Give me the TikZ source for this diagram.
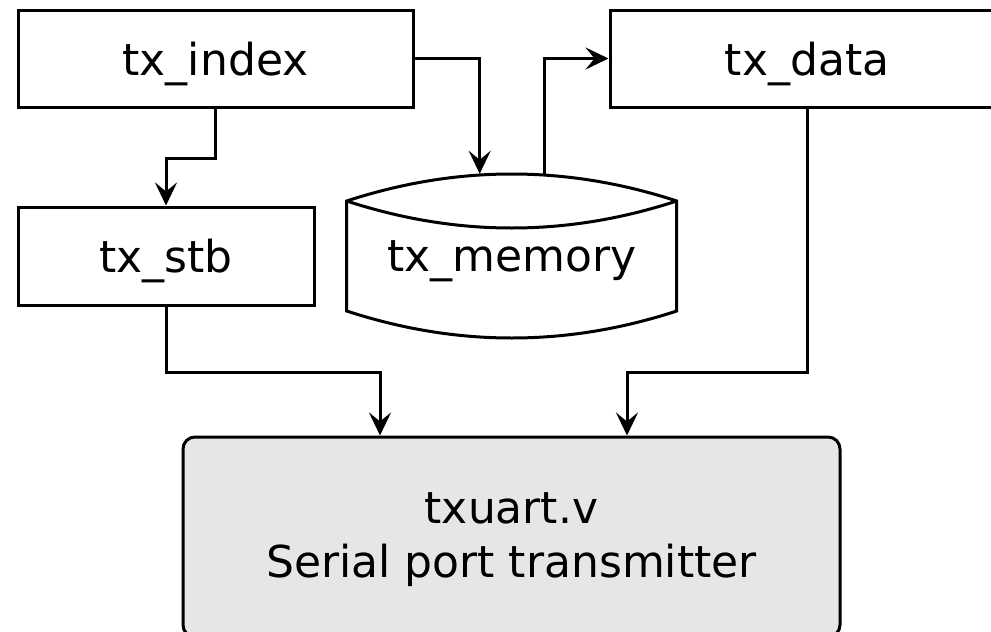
\documentclass[tikz,border=0pt]{standalone}
\usepackage{fontspec}
\setmainfont{DejaVu Sans}
\usetikzlibrary{arrows.meta,calc}
\definecolor{boxgray}{HTML}{E6E6E6}
\begin{document}
\begin{tikzpicture}[x=1pt,y=-1pt,
  every node/.style={font=\fontsize{44}{54}\selectfont},
  block/.style={draw,line width=3pt,rectangle,inner sep=0pt,text height=33pt,text depth=0pt},
  conn/.style={line width=3pt,-{Stealth[length=23pt,width=22pt,inset=9pt]}}]
\useasboundingbox (0,0) rectangle (991,632);
\clip (0,0) rectangle (991,632);

% register blocks
\node[block,minimum width=395pt,minimum height=97pt] (idx) at (215.5,58.5) {tx\_index};
\node[block,minimum width=394pt,minimum height=97pt] (data) at (807,58.5) {tx\_data};
\node[block,minimum width=296pt,minimum height=98pt] (stb) at (166,256) {tx\_stb};

% memory drawn as a drum
\draw[line width=3pt]
  (346.7,201) .. controls (456.7,165) and (566.7,165) .. (676.7,201)
  -- (676.7,311) .. controls (566.7,347) and (456.7,347) .. (346.7,311) -- cycle;
\draw[line width=3pt]
  (346.7,201) .. controls (456.7,237) and (566.7,237) .. (676.7,201);
\node[inner sep=0pt,minimum width=330pt,minimum height=164pt,text height=31pt,text depth=0pt]
  (mem) at (511.7,256) {tx\_memory};

% transmitter module
\node[draw,line width=3pt,fill=boxgray,rounded corners=12pt,minimum width=657pt,minimum height=200pt]
  (uart) at (511.5,537) {};
\node[anchor=base,inner sep=0pt] (uartlbl) at (511.5,523)
  {\begin{tabular}[t]{@{}c@{}}txuart.v\\Serial port transmitter\end{tabular}};

% connections
\draw[conn] (idx.east) -| ([xshift=-32pt]mem.north);
\draw[conn] ([xshift=33pt]mem.north) |- (data.west);
\draw[conn] (idx.south) -- ++(0,50) -| (stb.north);
\draw[conn] (stb.south) -- ++(0,66) -| ([xshift=-131.5pt]uart.north);
\draw[conn] (data.south) -- ++(0,264) -| ([xshift=115.5pt]uart.north);
\end{tikzpicture}
\end{document}
